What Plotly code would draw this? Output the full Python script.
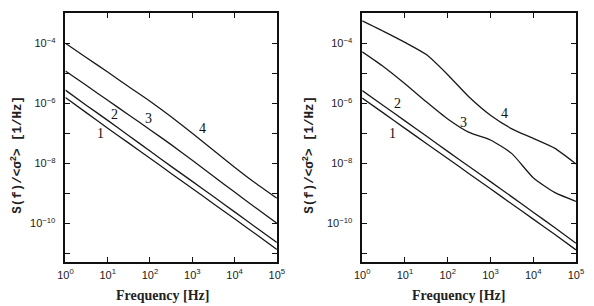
import math
import plotly.graph_objects as go

# ---------------- data ----------------
FREQ_HZ = [1, 3.162, 10, 31.62, 100, 316.2, 1000, 3162, 10000, 31623, 100000]

# left panel: S(f)/<sigma^2>  [1/Hz]
LEFT_1 = [1.55e-6, 4.8e-7, 1.48e-7, 4.7e-8, 1.48e-8, 4.6e-9, 1.45e-9, 4.5e-10, 1.41e-10, 4.4e-11, 1.35e-11]
LEFT_2 = [2.75e-6, 8.5e-7, 2.7e-7, 8.3e-8, 2.57e-8, 7.9e-9, 2.5e-9, 7.8e-10, 2.4e-10, 7.4e-11, 2.3e-11]
LEFT_3 = [1.2e-5, 3.9e-6, 1.26e-6, 4.1e-7, 1.32e-7, 4.2e-8, 1.26e-8, 3.7e-9, 1.1e-9, 3.3e-10, 1.0e-10]
LEFT_4 = [1.0e-4, 3.3e-5, 1.1e-5, 3.55e-6, 1.17e-6, 3.55e-7, 1.0e-7, 2.7e-8, 7.4e-9, 2.15e-9, 6.8e-10]

# right panel
RIGHT_1 = [1.5e-6, 4.7e-7, 1.46e-7, 4.6e-8, 1.45e-8, 4.5e-9, 1.42e-9, 4.4e-10, 1.38e-10, 4.3e-11, 1.3e-11]
RIGHT_2 = [2.65e-6, 8.3e-7, 2.6e-7, 8.1e-8, 2.5e-8, 7.8e-9, 2.45e-9, 7.6e-10, 2.35e-10, 7.2e-11, 2.15e-11]
RIGHT_3 = [5.2e-5, 1.66e-5, 4.5e-6, 1.12e-6, 3.0e-7, 1.07e-7, 6.0e-8, 2.1e-8, 3.3e-9, 1.07e-9, 5.4e-10]
RIGHT_4 = [5.6e-4, 2.5e-4, 1.07e-4, 4.2e-5, 9.0e-6, 1.62e-6, 4.0e-7, 1.41e-7, 6.8e-8, 3.2e-8, 9.5e-9]

CURVE_NAMES = ["1", "2", "3", "4"]
# label positions (Hz, value)
LEFT_LABELS = [(6.8, 9.5e-8), (14.5, 4.3e-7), (91, 3.0e-7), (1700, 1.48e-7)]
RIGHT_LABELS = [(5.1, 1.0e-7), (6.6, 9.5e-7), (240, 2.35e-7), (2090, 4.7e-7)]

X_TICKS = [1, 10, 100, 1000, 10000, 100000]
X_TICKTEXT = ["10<sup>0</sup>", "10<sup>1</sup>", "10<sup>2</sup>", "10<sup>3</sup>", "10<sup>4</sup>", "10<sup>5</sup>"]
Y_TICKS = [1e-3, 1e-4, 1e-5, 1e-6, 1e-7, 1e-8, 1e-9, 1e-10, 1e-11]
Y_TICKTEXT = ["", "10<sup>−4</sup>", "", "10<sup>−6</sup>", "", "10<sup>−8</sup>", "", "10<sup>−10</sup>", ""]

X_TITLE = "Frequency [Hz]"
Y_TITLE = "S(f)/&lt;σ<sup>2</sup>&gt; [1/Hz]"

# ---------------- figure ----------------
W, H = 594, 306
fig = go.Figure()

line_style = dict(color="#1a1a1a", width=1.3)
for ys in (LEFT_1, LEFT_2, LEFT_3, LEFT_4):
    fig.add_trace(go.Scatter(x=FREQ_HZ, y=ys, mode="lines", line=dict(**line_style, shape="spline", smoothing=0.5),
                             xaxis="x", yaxis="y", showlegend=False, hoverinfo="skip"))
for ys in (RIGHT_1, RIGHT_2, RIGHT_3, RIGHT_4):
    fig.add_trace(go.Scatter(x=FREQ_HZ, y=ys, mode="lines", line=dict(**line_style, shape="spline", smoothing=0.6),
                             xaxis="x2", yaxis="y2", showlegend=False, hoverinfo="skip"))

tickfont = dict(family="Liberation Sans, Arial, sans-serif", size=11, color="#222")
common_x = dict(type="log", range=[0, 5], tickvals=X_TICKS, ticktext=X_TICKTEXT, ticks="inside",
                ticklen=5, tickwidth=1.2, tickcolor="#111", showline=True, linecolor="#111", linewidth=1.6,
                mirror="ticks", showgrid=False, zeroline=False, tickfont=tickfont, ticklabelstandoff=2)
common_y = dict(type="log", range=[-11.28, -3], tickvals=Y_TICKS, ticktext=Y_TICKTEXT, ticks="inside",
                ticklen=5, tickwidth=1.2, tickcolor="#111", showline=True, linecolor="#111", linewidth=1.6,
                mirror="ticks", showgrid=False, zeroline=False, tickfont=tickfont, ticklabelstandoff=6)

y_dom = [1 - 261.7 / H, 1 - 13.3 / H]
fig.update_layout(
    width=W, height=H,
    margin=dict(l=0, r=0, t=0, b=0),
    paper_bgcolor="white", plot_bgcolor="white",
    xaxis=dict(domain=[59 / W, 276.3 / W], anchor="y", **common_x),
    yaxis=dict(domain=y_dom, anchor="x", **common_y),
    xaxis2=dict(domain=[364 / W, 583.7 / W], anchor="y2", **common_x),
    yaxis2=dict(domain=y_dom, anchor="x2", **common_y),
)

label_font = dict(family="Liberation Serif, Times New Roman, serif", size=14, color="#111")
for name, (fx, fy) in zip(CURVE_NAMES, LEFT_LABELS):
    fig.add_annotation(x=math.log10(fx), y=math.log10(fy), xref="x", yref="y", text=name,
                       showarrow=False, font=label_font)
for name, (fx, fy) in zip(CURVE_NAMES, RIGHT_LABELS):
    fig.add_annotation(x=math.log10(fx), y=math.log10(fy), xref="x2", yref="y2", text=name,
                       showarrow=False, font=label_font)

xt_font = dict(family="Liberation Serif, Times New Roman, serif", size=14, color="#222")
yt_font = dict(family="Liberation Mono, DejaVu Sans Mono, monospace", size=12.5, color="#222")
for cx in (159, 463):
    fig.add_annotation(x=cx / W, y=1 - 295 / H, xref="paper", yref="paper", text="<b>" + X_TITLE + "</b>",
                       showarrow=False, font=xt_font, xanchor="center", yanchor="middle")
for cx in (9, 309):
    fig.add_annotation(x=cx / W, y=1 - 155 / H, xref="paper", yref="paper", text="<b>" + Y_TITLE + "</b>",
                       showarrow=False, font=yt_font, textangle=-90, xanchor="center", yanchor="middle")

fig.write_html("out.html")
